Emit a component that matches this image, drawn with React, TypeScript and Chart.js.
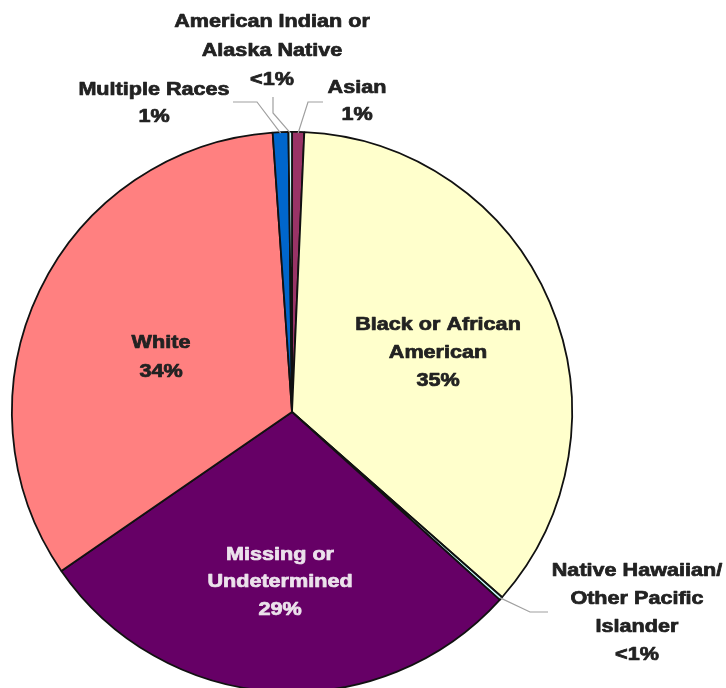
import React, { useEffect, useRef } from "react";
import { Chart, registerables } from "chart.js";

Chart.register(...registerables);

// Clockwise from 12 o'clock
const categories = [
  "Asian",
  "Black or African American",
  "Native Hawaiian/Other Pacific Islander",
  "Missing or Undetermined",
  "White",
  "Multiple Races",
  "American Indian or Alaska Native",
];
const shares = [0.7, 35.8, 0.2, 28.7, 33.5, 0.9, 0.2];
const sliceColors = ["#993366", "#FFFFCC", "#CCFFFF", "#660066", "#FF8080", "#0066CC", "#CCFFFF"];

// Label text lines per slice
const labelLines = [
  ["Asian", "1%"],
  ["Black or African", "American", "35%"],
  ["Native Hawaiian/", "Other Pacific", "Islander", "<1%"],
  ["Missing or", "Undetermined", "29%"],
  ["White", "34%"],
  ["Multiple Races", "1%"],
  ["American Indian or", "Alaska Native", "<1%"],
];
const labelColors = ["#222222", "#222222", "#222222", "#ece2ec", "#222222", "#222222", "#222222"];

// label block placement (center x, first line y)
const labelX = [357, 438, 637, 280, 161, 154, 272];
const labelY = [88, 325, 571, 555, 343, 90, 22];
const lineGap = [27, 28, 28, 27.5, 29, 27, 29];

// leader lines: [startX, startY, elbowX, elbowY] or null
const leaders: (number[] | null)[] = [
  [323, 102, 308, 102],
  null,
  [548, 612, 530, 612],
  null,
  null,
  [233, 102, 257, 102],
  [273, 97, 273, 113],
];

const labelPlugin = {
  id: "sliceLabels",
  afterDraw(chart: any) {
    const ctx = chart.ctx;
    const meta = chart.getDatasetMeta(0);
    ctx.save();
    ctx.strokeStyle = "#a0a0a0";
    ctx.lineWidth = 1.2;
    meta.data.forEach((arc: any, i: number) => {
      const l = leaders[i];
      if (!l) return;
      const p = arc.getProps(["x", "y", "startAngle", "endAngle", "outerRadius"], true);
      const mid = (p.startAngle + p.endAngle) / 2;
      const ex = p.x + Math.cos(mid) * (p.outerRadius - 1);
      const ey = p.y + Math.sin(mid) * (p.outerRadius - 1);
      ctx.beginPath();
      ctx.moveTo(l[0], l[1]);
      ctx.lineTo(l[2], l[3]);
      ctx.lineTo(ex, ey);
      ctx.stroke();
    });
    ctx.font = 'bold 18px "Liberation Sans", Arial, sans-serif';
    ctx.textAlign = "center";
    ctx.textBaseline = "middle";
    ctx.lineJoin = "round";
    labelLines.forEach((lines, i) => {
      ctx.fillStyle = labelColors[i];
      ctx.strokeStyle = labelColors[i];
      ctx.lineWidth = 0.7;
      lines.forEach((t, j) => {
        ctx.save();
        ctx.translate(labelX[i], labelY[i] + j * lineGap[i]);
        ctx.scale(1.2, 1);
        ctx.fillText(t, 0, 0);
        ctx.strokeText(t, 0, 0);
        ctx.restore();
      });
    });
    ctx.restore();
  },
};

export default function App() {
  const ref = useRef<HTMLCanvasElement | null>(null);
  useEffect(() => {
    document.body.style.margin = "0";
    const chart = new Chart(ref.current as HTMLCanvasElement, {
      type: "pie",
      data: {
        labels: categories,
        datasets: [
          {
            data: shares,
            backgroundColor: sliceColors,
            borderColor: "#111111",
            borderWidth: 1.8,
          },
        ],
      },
      options: {
        animation: false,
        responsive: false,
        maintainAspectRatio: false,
        layout: { padding: { left: 11, top: 131, right: 153, bottom: 7 } },
        plugins: {
          legend: { display: false },
          tooltip: { enabled: false },
        },
      },
      plugins: [labelPlugin],
    });
    return () => chart.destroy();
  }, []);
  return (
    <div style={{ width: 726, height: 688, overflow: "hidden", background: "#fff" }}>
      <canvas ref={ref} width={726} height={700} style={{ display: "block" }} />
    </div>
  );
}
